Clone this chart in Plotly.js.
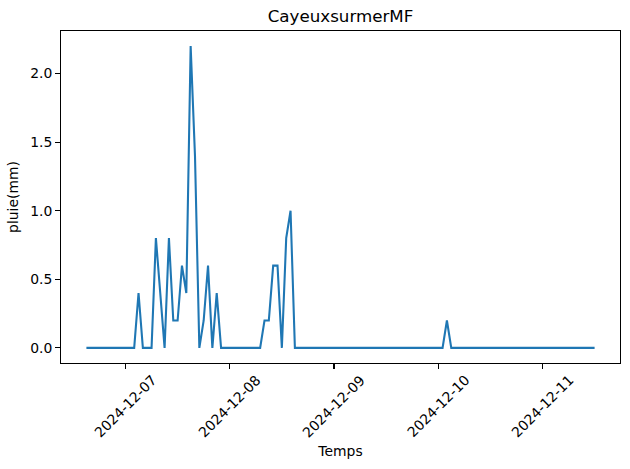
<!DOCTYPE html>
<html>
<head>
<meta charset="utf-8">
<script src="https://cdn.plot.ly/plotly-3.0.1.min.js"></script>
<style>html,body{margin:0;padding:0;background:#fff;}#chart{width:630px;height:469px;}</style>
</head>
<body>
<div id="chart"></div>
<script>
// Hourly rainfall series, first sample at startTime
const startTime = '2024-12-06T15:00:00Z';
const pluie = [
  0, 0, 0, 0, 0, 0, 0, 0, 0, 0, 0, 0,
  0.4, 0, 0, 0,
  0.8, 0.4, 0, 0.8, 0.2, 0.2, 0.6, 0.4, 2.2, 1.4, 0, 0.2, 0.6, 0, 0.4, 0,
  0, 0, 0, 0, 0, 0, 0, 0, 0,
  0.2, 0.2, 0.6, 0.6, 0, 0.8, 1.0,
  0, 0, 0, 0, 0, 0, 0, 0, 0, 0, 0, 0, 0, 0, 0, 0, 0, 0, 0, 0, 0, 0, 0, 0, 0, 0, 0, 0, 0, 0, 0, 0, 0, 0, 0,
  0.2,
  0, 0, 0, 0, 0, 0, 0, 0, 0, 0, 0, 0, 0, 0, 0, 0, 0, 0, 0, 0, 0, 0, 0, 0, 0, 0, 0, 0, 0, 0, 0, 0, 0, 0
];
const tickDates = ['2024-12-07', '2024-12-08', '2024-12-09', '2024-12-10', '2024-12-11'];
const yTicks = [0, 0.5, 1.0, 1.5, 2.0];
const titleText = 'CayeuxsurmerMF';
const xTitle = 'Temps';
const yTitle = 'pluie(mm)';

const t0 = Date.parse(startTime);
const temps = pluie.map((_, i) => new Date(t0 + i * 3600e3).toISOString().slice(0, 19).replace('T', ' '));

const tMin = t0, tMax = t0 + (pluie.length - 1) * 3600e3;
const padX = (tMax - tMin) * 0.05;
const fmt = ms => new Date(ms).toISOString().slice(0, 23).replace('T', ' ');
const yMax = Math.max(...pluie), yMin = Math.min(...pluie);
const padY = (yMax - yMin) * 0.05;

const font = 'DejaVu Sans, sans-serif';
const tickAnn = tickDates.map(d => ({
  x: d, xref: 'x', y: -0.1295, yref: 'paper',
  text: d, showarrow: false, textangle: -45,
  xanchor: 'center', yanchor: 'middle',
  font: {family: font, size: 13.9, color: '#000'}
}));

Plotly.newPlot('chart', [{
  x: temps, y: pluie, type: 'scatter', mode: 'lines',
  line: {color: '#1f77b4', width: 2.08}
}], {
  width: 630, height: 469,
  margin: {l: 61, r: 10, t: 31, b: 106, pad: 0},
  paper_bgcolor: '#fff', plot_bgcolor: '#fff',
  showlegend: false,
  title: {text: titleText, font: {family: font, size: 16.7, color: '#000'},
          x: 0.5405, xanchor: 'center', y: 0.953, yanchor: 'bottom', yref: 'container'},
  xaxis: {
    type: 'date', range: [fmt(tMin - padX), fmt(tMax + padX)],
    tickvals: tickDates, showticklabels: false,
    ticks: 'outside', ticklen: 4.9, tickwidth: 1.1, tickcolor: '#000',
    showline: true, linecolor: '#000', linewidth: 1.1, mirror: true,
    showgrid: false, zeroline: false,
    title: {text: xTitle, font: {family: font, size: 13.9, color: '#000'}, standoff: 78}
  },
  yaxis: {
    range: [yMin - padY, yMax + padY],
    tickvals: yTicks, tickformat: '.1f',
    ticks: 'outside', ticklen: 4.9, tickwidth: 1.1, tickcolor: '#000',
    tickfont: {family: font, size: 13.9, color: '#000'},
    showline: true, linecolor: '#000', linewidth: 1.1, mirror: true,
    showgrid: false, zeroline: false,
    title: {text: yTitle, font: {family: font, size: 13.9, color: '#000'}, standoff: 8}
  },
  annotations: tickAnn
}, {displayModeBar: false, staticPlot: true});
</script>
</body>
</html>
